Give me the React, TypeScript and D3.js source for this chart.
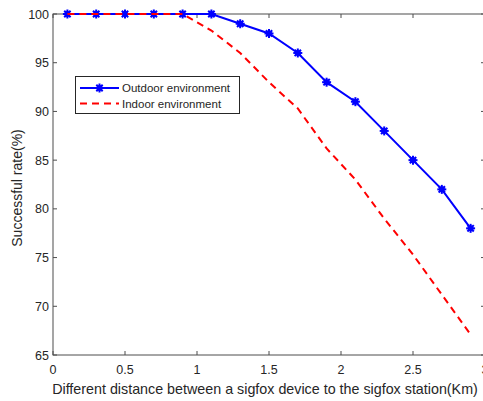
import React, { useRef, useEffect } from "react";
import * as d3 from "d3";

const distances = [0.1, 0.3, 0.5, 0.7, 0.9, 1.1, 1.3, 1.5, 1.7, 1.9, 2.1, 2.3, 2.5, 2.7, 2.9];
const outdoor = [100, 100, 100, 100, 100, 100, 99, 98, 96, 93, 91, 88, 85, 82, 78];
const indoor = [100, 100, 100, 100, 100, 98.3, 96, 93, 90.3, 86.2, 83, 79, 75.3, 71.2, 67.1];
const xTicks = [0, 0.5, 1, 1.5, 2, 2.5, 3];
const yTicks = [65, 70, 75, 80, 85, 90, 95, 100];
const seriesNames = ["Outdoor environment", "Indoor environment"];

export default function App() {
  const svgRef = useRef<SVGSVGElement>(null);

  useEffect(() => {
    const svgEl = svgRef.current;
    if (!svgEl) return;
    const svg = d3.select(svgEl);
    svg.selectAll("*").remove();

    const left = 53, right = 485, top = 14, bottom = 355;
    const x = d3.scaleLinear().domain([0, 3]).range([left, right]);
    const y = d3.scaleLinear().domain([65, 100]).range([bottom, top]);
    const font = "Liberation Sans, Arial, sans-serif";
    const axisColor = "#4d4d4d";
    const tickLen = 4;

    const g = svg.append("g");

    // box
    g.append("rect")
      .attr("x", left).attr("y", top)
      .attr("width", right - left).attr("height", bottom - top)
      .attr("fill", "none").attr("stroke", axisColor).attr("stroke-width", 1);

    // x ticks (bottom and top, inward)
    xTicks.forEach(t => {
      const px = x(t);
      g.append("line").attr("x1", px).attr("x2", px)
        .attr("y1", bottom).attr("y2", bottom - tickLen)
        .attr("stroke", axisColor);
      g.append("line").attr("x1", px).attr("x2", px)
        .attr("y1", top).attr("y2", top + tickLen)
        .attr("stroke", axisColor);
      g.append("text")
        .attr("x", px).attr("y", bottom + 19)
        .attr("text-anchor", "middle")
        .attr("font-family", font).attr("font-size", 12.5)
        .attr("fill", "#262626")
        .text(d3.format("~g")(t));
    });

    // y ticks (left and right, inward)
    yTicks.forEach(t => {
      const py = y(t);
      g.append("line").attr("x1", left).attr("x2", left + tickLen)
        .attr("y1", py).attr("y2", py)
        .attr("stroke", axisColor);
      g.append("line").attr("x1", right).attr("x2", right - tickLen)
        .attr("y1", py).attr("y2", py)
        .attr("stroke", axisColor);
      g.append("text")
        .attr("x", left - 4).attr("y", py + 4.5)
        .attr("text-anchor", "end")
        .attr("font-family", font).attr("font-size", 12.5)
        .attr("fill", "#262626")
        .text(t);
    });

    // axis labels
    g.append("text")
      .attr("x", 265).attr("y", 394)
      .attr("text-anchor", "middle")
      .attr("font-family", font).attr("font-size", 14.3)
      .attr("fill", "#262626")
      .text("Different distance between a sigfox device to the sigfox station(Km)");
    g.append("text")
      .attr("transform", `translate(22,188) rotate(-90)`)
      .attr("text-anchor", "middle")
      .attr("font-family", font).attr("font-size", 14)
      .attr("fill", "#262626")
      .text("Successful rate(%)");

    const line = d3.line<number>()
      .x((_, i) => x(distances[i]))
      .y(d => y(d));

    const star = (sel: d3.Selection<SVGGElement, unknown, null, undefined>, cx: number, cy: number) => {
      const r = 4.5;
      const s = r * Math.SQRT1_2;
      [[-r, 0, r, 0], [0, -r, 0, r], [-s, -s, s, s], [-s, s, s, -s]].forEach(([a, b, c, d]) => {
        sel.append("line")
          .attr("x1", cx + a).attr("y1", cy + b)
          .attr("x2", cx + c).attr("y2", cy + d)
          .attr("stroke", "#0000ff").attr("stroke-width", 2);
      });
      sel.append("circle").attr("cx", cx).attr("cy", cy).attr("r", 3).attr("fill", "#0000ff");
    };

    // outdoor
    g.append("path")
      .attr("d", line(outdoor))
      .attr("fill", "none").attr("stroke", "#0000ff").attr("stroke-width", 2);
    const markers = g.append("g");
    outdoor.forEach((v, i) => star(markers, x(distances[i]), y(v)));

    // indoor
    g.append("path")
      .attr("d", line(indoor))
      .attr("fill", "none").attr("stroke", "#ff0000").attr("stroke-width", 2)
      .attr("stroke-dasharray", "7,5");

    // legend
    const lg = g.append("g");
    lg.append("rect")
      .attr("x", 75.5).attr("y", 76.5).attr("width", 164).attr("height", 37)
      .attr("fill", "#fff").attr("stroke", "#262626").attr("stroke-width", 1);
    lg.append("line").attr("x1", 80).attr("x2", 119).attr("y1", 88).attr("y2", 88)
      .attr("stroke", "#0000ff").attr("stroke-width", 2);
    const lm = lg.append("g");
    star(lm, 99.5, 88);
    lg.append("line").attr("x1", 80).attr("x2", 119).attr("y1", 103.5).attr("y2", 103.5)
      .attr("stroke", "#ff0000").attr("stroke-width", 2).attr("stroke-dasharray", "7,5");
    seriesNames.forEach((n, i) => {
      lg.append("text")
        .attr("x", 122).attr("y", 92 + i * 15.5)
        .attr("font-family", font).attr("font-size", 11.5)
        .attr("fill", "#262626")
        .text(n);
    });
  }, []);

  return (
    <svg
      ref={svgRef}
      width={483}
      height={401}
      style={{ position: "absolute", left: 0, top: 0, background: "#fff" }}
    />
  );
}
